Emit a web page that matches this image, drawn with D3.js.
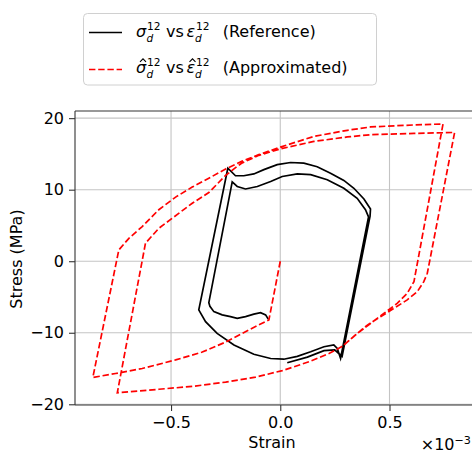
<!DOCTYPE html>
<html>
<head>
<meta charset="utf-8">
<script src="https://cdn.jsdelivr.net/npm/d3@7"></script>
<style>
  html, body { margin: 0; padding: 0; background: #fff; }
  svg { display: block; font-family: "DejaVu Sans", sans-serif; }
</style>
</head>
<body>
<svg id="chart" width="472" height="452"></svg>
<script>
// ---- Data (strain in units of 1e-3, stress in MPa) ----
const strainRef = [-0.055, -0.067, -0.09, -0.121, -0.159, -0.197, -0.228, -0.266, -0.304, -0.322, -0.327,
  -0.22, -0.197, -0.159, -0.105, -0.044, 0.009, 0.078, 0.139, 0.215, 0.291, 0.352, 0.39, 0.404,
  0.276, 0.261, 0.245, 0.2, 0.139, 0.078, 0.016, -0.044, -0.121, -0.212, -0.289, -0.342, -0.373,
  -0.24, -0.205, -0.167, -0.121, -0.075, -0.014, 0.047, 0.108, 0.169, 0.23, 0.291, 0.337, 0.383, 0.413, 0.411,
  0.283, 0.268, 0.249, 0.2, 0.124, 0.032];
const stressRef = [-8.1, -7.5, -7.2, -7.4, -7.75, -8.0, -7.75, -7.5, -7.05, -6.3, -5.8,
  11.1, 10.45, 10.1, 10.45, 11.15, 11.85, 12.2, 12.1, 11.4, 10.2, 8.8, 7.2, 6.2,
  -13.6, -12.2, -11.7, -11.95, -12.65, -13.3, -13.7, -13.6, -13.0, -11.7, -10.1, -8.45, -6.8,
  13.0, 11.95, 11.95, 12.2, 12.8, 13.5, 13.8, 13.7, 13.2, 12.3, 11.3, 10.2, 8.7, 7.3, 6.3,
  -13.3, -12.9, -12.4, -12.5, -13.4, -14.2];

const strainApprox = [0, -0.052, -0.144, -0.25, -0.357, -0.479, -0.632, -0.754, -0.858,
  -0.739, -0.693, -0.632, -0.556, -0.479, -0.403, -0.327, -0.25, -0.174, -0.098, 0.0, 0.154, 0.307, 0.4135, 0.612, 0.745,
  0.612, 0.581, 0.535, 0.474, 0.413, 0.353, 0.284, 0.223, 0.131, 0.009, -0.113, -0.25, -0.403, -0.556, -0.746,
  -0.617, -0.556, -0.495, -0.403, -0.327, -0.25, -0.2, -0.174, -0.098, 0.0, 0.154, 0.307, 0.4135, 0.612, 0.798,
  0.673, 0.657, 0.627, 0.581, 0.52, 0.459, 0.40, 0.34, 0.28];
const stressApprox = [0, -8.2, -9.6, -11.3, -12.7, -13.8, -15.0, -15.7, -16.25,
  1.58, 3.2, 4.85, 7.2, 8.96, 10.36, 11.6, 12.9, 14.0, 14.9, 15.95, 17.45, 18.3, 18.77, 19.05, 19.19,
  -2.85, -4.5, -5.9, -7.3, -8.7, -10.1, -11.9, -12.9, -14.06, -15.3, -16.2, -16.9, -17.5, -17.9, -18.4,
  2.52, 4.6, 6.0, 8.1, 9.6, 12.0, 13.2, 13.75, 14.8, 15.7, 16.75, 17.37, 17.69, 17.87, 18.0,
  -1.68, -2.86, -4.26, -5.4, -6.6, -7.75, -8.9, -10.4, -12.0];

const xTicks = [-0.5, 0.0, 0.5];
const xTickLabels = ["\u22120.5", "0.0", "0.5"];
const yTicks = [-20, -10, 0, 10, 20];
const yTickLabels = ["\u221220", "\u221210", "0", "10", "20"];

// ---- Layout ----
const svg = d3.select("#chart");
const L = 75, R = 473, T = 111, B = 405;
const x = d3.scaleLinear().domain([-0.9396, 0.8822]).range([L, R]);
const y = d3.scaleLinear().domain([-20.1, 21.0]).range([B, T]);

// grid
const grid = svg.append("g");
grid.selectAll("line.gx").data(xTicks).enter().append("line")
  .attr("x1", d => x(d)).attr("x2", d => x(d)).attr("y1", T).attr("y2", B)
  .attr("stroke", "#c4c4c4").attr("stroke-width", 1.1);
grid.selectAll("line.gy").data(yTicks).enter().append("line")
  .attr("x1", L).attr("x2", R).attr("y1", d => y(d)).attr("y2", d => y(d))
  .attr("stroke", "#c4c4c4").attr("stroke-width", 1.1);

// clip
svg.append("clipPath").attr("id", "clip").append("rect")
  .attr("x", L).attr("y", T).attr("width", R - L).attr("height", B - T);

const line = d3.line().x(d => x(d[0])).y(d => y(d[1]));
const refPts = strainRef.map((s, i) => [s, stressRef[i]]);
const apxPts = strainApprox.map((s, i) => [s, stressApprox[i]]);

const plot = svg.append("g").attr("clip-path", "url(#clip)");
plot.append("path").datum(refPts).attr("d", line)
  .attr("fill", "none").attr("stroke", "#000").attr("stroke-width", 1.7)
  .attr("stroke-linejoin", "miter");
plot.append("path").datum(apxPts).attr("d", line)
  .attr("fill", "none").attr("stroke", "#ff0000").attr("stroke-width", 1.7)
  .attr("stroke-dasharray", "6.4,2.8");

// spines
const spine = (x1, y1, x2, y2) => svg.append("line").attr("x1", x1).attr("y1", y1).attr("x2", x2).attr("y2", y2)
  .attr("stroke", "#333").attr("stroke-width", 1.1);
spine(L, T, L, B); spine(L, B, R, B); spine(L, T, R, T); spine(R, T, R, B);

// axes
const xAxis = d3.axisBottom(x).tickValues(xTicks).tickFormat((d, i) => xTickLabels[i]).tickSize(6).tickPadding(5.5);
const yAxis = d3.axisLeft(y).tickValues(yTicks).tickFormat((d, i) => yTickLabels[i]).tickSize(6).tickPadding(5);
const gx = svg.append("g").attr("transform", `translate(0,${B})`).call(xAxis);
const gy = svg.append("g").attr("transform", `translate(${L},0)`).call(yAxis);
[gx, gy].forEach(g => {
  g.select(".domain").remove();
  g.selectAll(".tick line").attr("stroke", "#333").attr("stroke-width", 1.1);
  g.selectAll(".tick text").attr("fill", "#000").style("font-family", "DejaVu Sans").style("font-size", "16px");
});

// axis labels
svg.append("text").attr("x", 272).attr("y", 448).attr("text-anchor", "middle")
  .style("font-size", "16px").text("Strain");
svg.append("text").attr("transform", "translate(22,259) rotate(-90)").attr("text-anchor", "middle")
  .style("font-size", "16px").text("Stress (MPa)");

// offset text x10^-3
const off = svg.append("text").attr("x", 471).attr("y", 449.5).attr("text-anchor", "end").style("font-size", "16px");
off.append("tspan").text("\u00d710");
off.append("tspan").attr("dy", -6).style("font-size", "11.2px").text("\u22123");

// legend
const lg = svg.append("g");
lg.append("rect").attr("x", 83.5).attr("y", 13.5).attr("width", 293).attr("height", 71.5).attr("rx", 4)
  .attr("fill", "#fff").attr("fill-opacity", 0.8).attr("stroke", "#d0d0d0").attr("stroke-width", 1);
lg.append("line").attr("x1", 89).attr("x2", 122).attr("y1", 32.5).attr("y2", 32.5)
  .attr("stroke", "#000").attr("stroke-width", 1.7);
lg.append("line").attr("x1", 89).attr("x2", 122).attr("y1", 69.5).attr("y2", 69.5)
  .attr("stroke", "#ff0000").attr("stroke-width", 1.7).attr("stroke-dasharray", "6.4,2.8");

function mathLabel(b, hat, tail) {
  const txt = lg.append("text").style("font-size", "16px");
  const part = (xx, yy, s, size, italic) => txt.append("tspan").attr("x", xx).attr("y", yy)
    .style("font-size", size + "px").style("font-style", italic ? "italic" : "normal").text(s);
  part(136, b, "\u03c3", 16, true);
  part(147, b - 7, "12", 10.6, false);
  part(146.5, b + 5.3, "d", 10.6, true);
  part(166, b, "vs", 16, false);
  part(186.5, b, "\u03b5", 16, true);
  part(196, b - 7, "12", 10.6, false);
  part(195, b + 5.3, "d", 10.6, true);
  part(222.7, b, tail, 16, false);
  if (hat) {
    [143, 192.5].forEach(cx => {
      lg.append("path").attr("d", `M${cx - 3},${b - 11.2}L${cx},${b - 14.2}L${cx + 3},${b - 11.2}`)
        .attr("fill", "none").attr("stroke", "#000").attr("stroke-width", 1.1);
    });
  }
}
mathLabel(36.5, false, "(Reference)");
mathLabel(73, true, "(Approximated)");
</script>
</body>
</html>
